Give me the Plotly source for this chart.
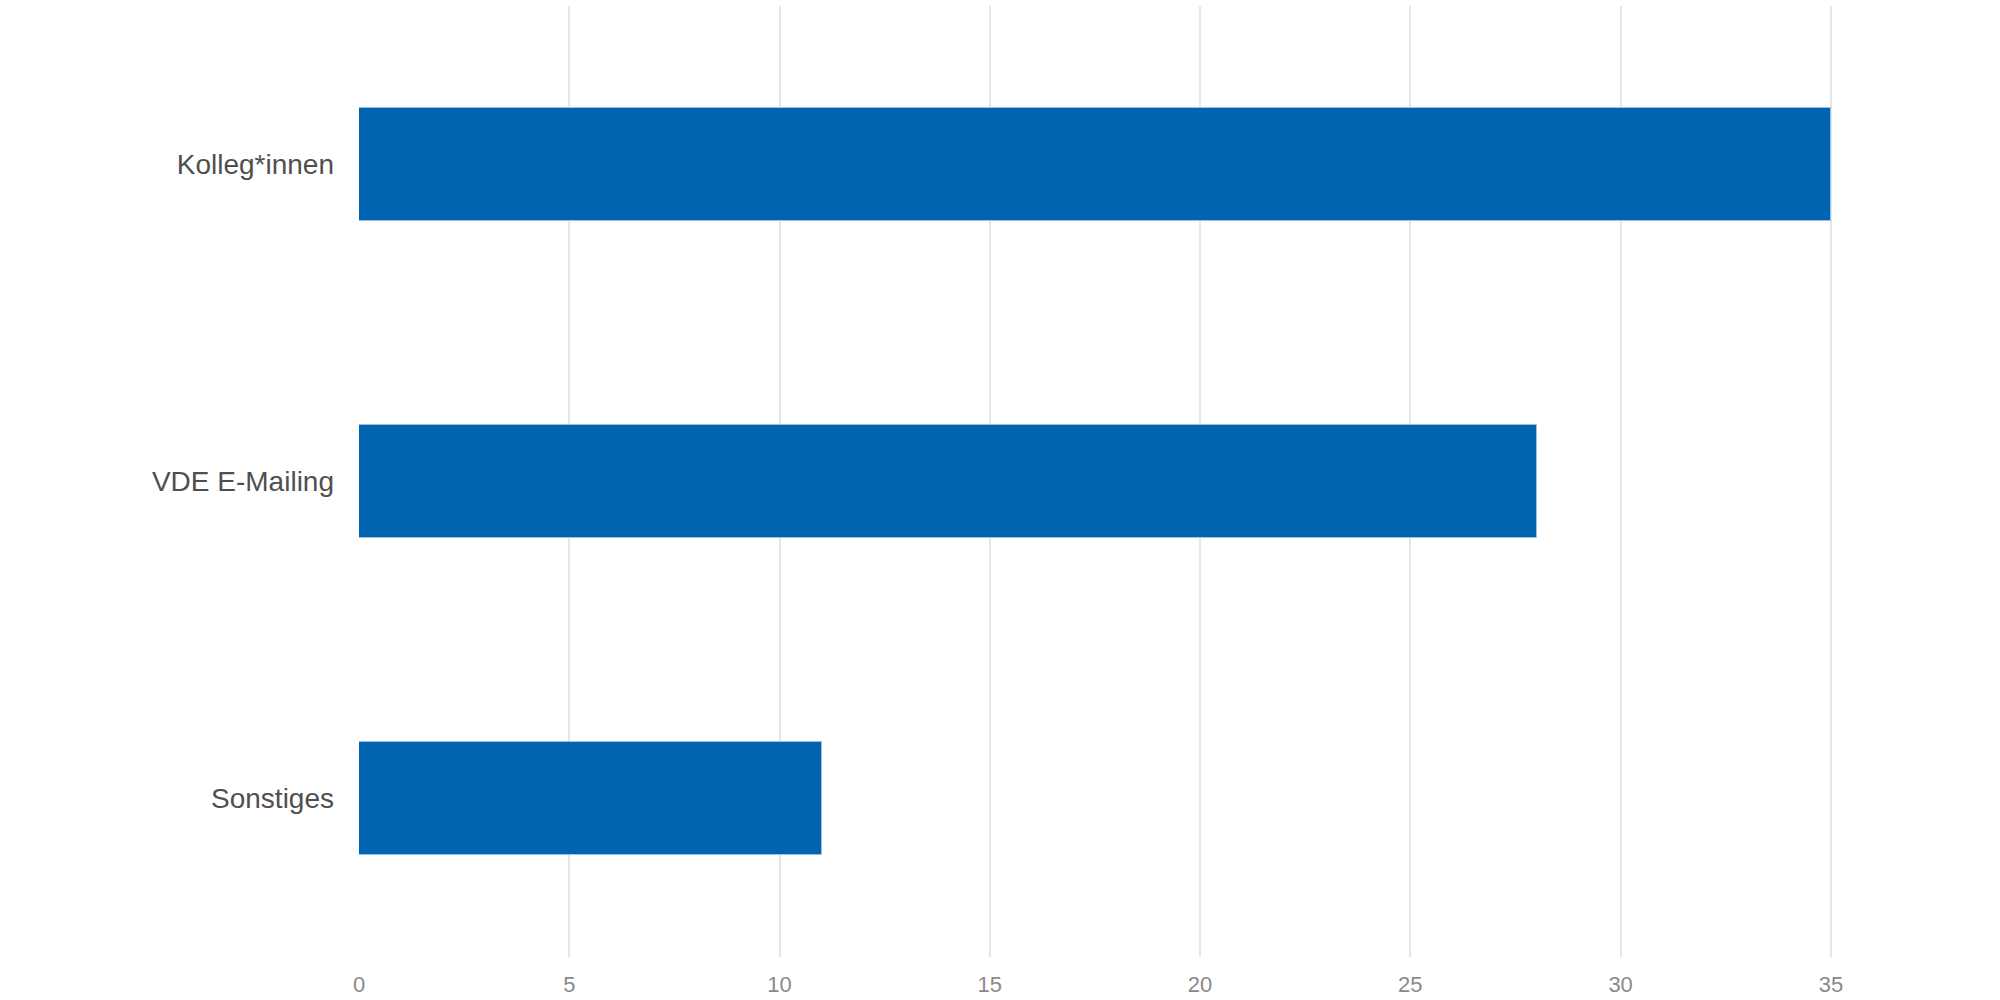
import plotly.graph_objects as go

categories = ["Kolleg*innen", "VDE E-Mailing", "Sonstiges"]
values = [35, 28, 11]
x_ticks = [0, 5, 10, 15, 20, 25, 30, 35]

fig = go.Figure(go.Bar(
    x=values,
    y=categories,
    orientation="h",
    width=0.354,
    marker=dict(color="#0064B0", line=dict(color="#9cc3e6", width=1)),
    hoverinfo="x+y",
))

fig.update_layout(
    width=2000,
    height=1000,
    paper_bgcolor="white",
    plot_bgcolor="white",
    margin=dict(l=359, r=85, t=6, b=43),
    font=dict(family="Liberation Sans, Arial, sans-serif"),
    showlegend=False,
    bargap=0,
)
fig.update_xaxes(
    range=[0, 37],
    tickvals=x_ticks,
    ticktext=[str(v) for v in x_ticks],
    showgrid=True,
    gridcolor="#e6e6e6",
    gridwidth=2,
    zeroline=False,
    showline=False,
    tickfont=dict(size=22, color="#8a8a8a"),
    ticklabelstandoff=12,
    automargin=False,
)
fig.update_yaxes(
    categoryorder="array",
    categoryarray=categories[::-1],
    showgrid=False,
    zeroline=False,
    showline=False,
    tickfont=dict(size=28, color="#4f4f4f"),
    ticklabelstandoff=24,
    automargin=False,
)

fig.write_html(
    "out.html",
    config={"displayModeBar": False},
    post_script="document.body.style.margin='0';document.body.style.overflow='hidden';",
)
